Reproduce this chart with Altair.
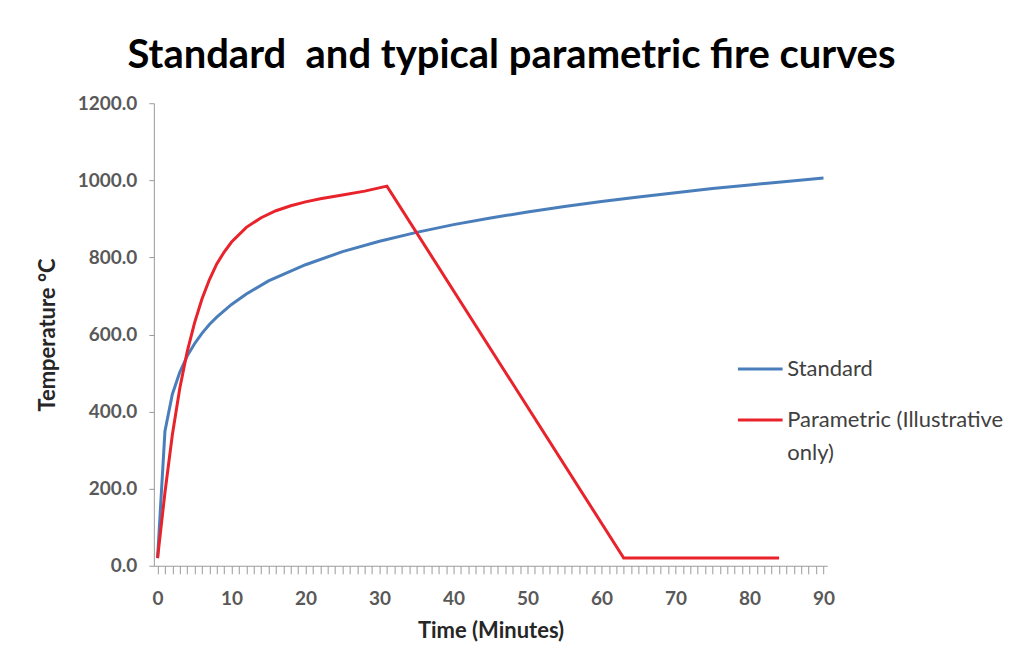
import altair as alt
import pandas as pd

# Standard (ISO 834) curve
std_time = [0, 1, 2, 3, 4, 5, 6, 7, 8, 10, 12, 15, 20, 25, 30, 35, 40, 45, 50, 55, 60, 65, 70, 75, 80, 85, 90]
std_temp = [20, 349, 445, 502, 544, 576, 603, 626, 645, 678, 705, 739, 781, 815, 842, 865, 885, 902, 918, 932, 945, 957, 968, 979, 988, 997, 1006]

# Parametric (illustrative) curve
par_time = [0, 1, 2, 3, 4, 5, 6, 7, 8, 9, 10, 12, 14, 16, 18, 20, 22, 25, 28, 31, 63, 84]
par_temp = [20, 190, 340, 460, 555, 630, 692, 742, 783, 814, 840, 878, 903, 921, 934, 944, 952, 962, 972, 985, 20, 20]

series_names = ["Standard", "Parametric (Illustrative only)"]
series_colors = ["#4A7EBB", "#E8232B"]

df = pd.concat([
    pd.DataFrame({"time": std_time, "temp": std_temp, "series": series_names[0], "order": 0}),
    pd.DataFrame({"time": par_time, "temp": par_temp, "series": series_names[1], "order": 1}),
])

FONT = "Lato"

lines = alt.Chart(df).mark_line(strokeWidth=3).encode(
    x=alt.X("time:Q",
            scale=alt.Scale(domain=[-0.5, 90.5], nice=False, zero=False),
            axis=alt.Axis(title="Time (Minutes)", values=list(range(0, 91)),
                          labelExpr="datum.value % 10 == 0 ? datum.label : ''",
                          grid=False, tickSize=8, tickColor="#9a9a9a", domainColor="#9a9a9a",
                          labelFont=FONT, labelFontSize=19, labelFontWeight="bold", labelColor="#595959",
                          labelPadding=16, labelFlush=False,
                          titleFont=FONT, titleFontSize=22, titleFontWeight="bold", titleColor="#262626",
                          titlePadding=12)),
    y=alt.Y("temp:Q",
            scale=alt.Scale(domain=[0, 1200], nice=False),
            axis=alt.Axis(title="Temperature °C", values=[0, 200, 400, 600, 800, 1000, 1200],
                          format=".1f", grid=False, tickSize=5, tickColor="#9a9a9a", domainColor="#9a9a9a",
                          labelFont=FONT, labelFontSize=19, labelFontWeight="bold", labelColor="#595959",
                          labelPadding=12,
                          titleFont=FONT, titleFontSize=22, titleFontWeight="bold", titleColor="#262626",
                          titlePadding=18)),
    color=alt.Color("series:N",
                    scale=alt.Scale(domain=series_names, range=series_colors),
                    legend=alt.Legend(title=None, orient="none", legendX=583, legendY=242,
                                      symbolType="stroke", symbolSize=2000, symbolStrokeWidth=3,
                                      labelFont=FONT, labelFontSize=22, labelColor="#404040",
                                      labelOffset=3, rowPadding=16, labelLimit=400,
                                      labelExpr="datum.label == 'Parametric (Illustrative only)' ? ['Parametric (Illustrative', 'only)'] : datum.label")),
    order="order:Q",
    detail="series:N",
)

chart = lines.properties(
    width=674,
    height=463,
    autosize=alt.AutoSizeParams(type="none"),
    padding={"left": 146, "top": 95, "right": 190, "bottom": 83},
    background="white",
    title=alt.TitleParams("Standard\u00a0 and typical parametric fire curves", font=FONT, fontSize=40,
                          fontWeight="bold", color="#000000", anchor="middle", frame="group",
                          dx=21, offset=18),
).configure(style={"guide-label": {"lineHeight": 33}}).configure_view(stroke=None)

chart.save("out.html", embed_options={"renderer": "svg", "actions": False})
